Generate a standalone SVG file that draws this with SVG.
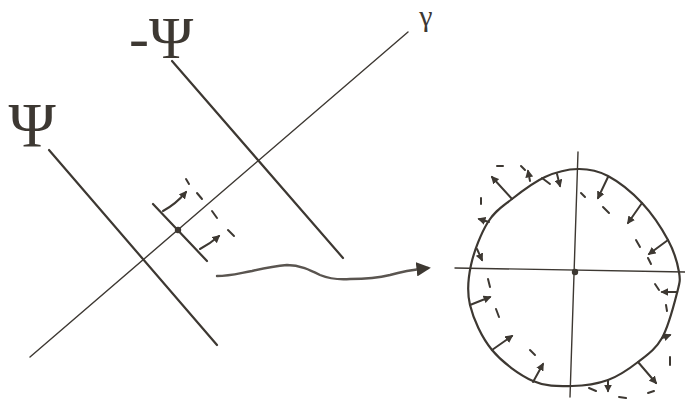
<svg xmlns="http://www.w3.org/2000/svg" width="685" height="403" viewBox="0 0 685 403">
<defs>
<style>
.ln{stroke:#3d3832;fill:none;stroke-linecap:round;stroke-linejoin:round}
.thick{stroke-width:2.2}
.thin{stroke-width:1.4}
.ar{stroke:#3d3832;stroke-width:2;fill:none;stroke-linecap:round;marker-end:url(#ah)}
.ds{stroke:#3d3832;stroke-width:2;fill:none;stroke-linecap:round}
.lbl{font-family:"Liberation Serif","DejaVu Serif",serif;fill:#3d3832}
</style>
<marker id="ah" viewBox="0 0 10 10" refX="8" refY="5" markerWidth="4" markerHeight="4" orient="auto" markerUnits="strokeWidth">
<path d="M0,0 L10,5 L0,10 Z" fill="#3d3832"/>
</marker>
<marker id="bigah" viewBox="0 0 10 10" refX="8" refY="5" markerWidth="6" markerHeight="6" orient="auto" markerUnits="strokeWidth">
<path d="M0,0 L10,5 L0,10 Z" fill="#3d3832"/>
</marker>
</defs>
<rect width="685" height="403" fill="#ffffff"/>

<g id="label-psi">
<text class="lbl" x="32" y="147" font-size="64" text-anchor="middle">Ψ</text>
</g>
<g id="label-minus-psi">
<text class="lbl" x="129" y="58" font-size="60">-Ψ</text>
</g>
<g id="label-gamma">
<text class="lbl" x="426" y="26" font-size="30" text-anchor="middle">γ</text>
</g>

<g id="lines">
<line class="ln thin" x1="408" y1="32" x2="30" y2="357"/>
<line class="ln thick" x1="49" y1="150" x2="217" y2="345"/>
<line class="ln thick" x1="172" y1="61" x2="343" y2="258"/>
</g>

<g id="local-variation">
<line class="ln thick" x1="153" y1="204" x2="207" y2="261"/>
<circle cx="178" cy="230" r="3.2" fill="#3d3832"/>
<path class="ar" d="M163,211 Q176,204 186,192"/>
<path class="ar" d="M200,249 Q211,243 219,236"/>
<line class="ds" x1="186" y1="179" x2="189" y2="184"/>
<line class="ds" x1="197" y1="193" x2="202" y2="199"/>
<line class="ds" x1="212" y1="211" x2="217" y2="218"/>
<line class="ds" x1="228" y1="230" x2="234" y2="236"/>
</g>

<g id="connectors">
<path d="M217,276 C230,276 240,273 252,271 C265,268 275,266 287,265 C300,265 310,270 320,275 C330,279 338,280 350,279 C365,279 378,278 390,275 C400,272 410,270 428,268" fill="none" stroke="#5a5550" stroke-width="2.4" stroke-linecap="round" marker-end="url(#bigah)"/>
</g>

<g id="circle-diagram">
<line class="ln thin" x1="455" y1="268" x2="685" y2="272"/>
<line class="ln thin" x1="578" y1="152" x2="570" y2="397"/>
<circle cx="575" cy="272" r="3.2" fill="#3d3832"/>
<path class="ln thick" d="M578,169 C588.5,168.8 597.3,170.3 608,176 C618.7,181.7 632,192.3 642,203 C652,213.7 661.8,228.5 668,240 C674.2,251.5 677.5,263.2 679,272 C680.5,280.8 679.8,282 677,293 C674.2,304 668.5,326.5 662,338 C655.5,349.5 647,355 638,362 C629,369 619,376 608,380 C597,384 584.5,385.8 572,386 C559.5,386.2 546.3,387 533,381 C519.7,375 502.5,362.7 492,350 C481.5,337.3 473.5,319.2 470,305 C466.5,290.8 468,278.8 471,265 C474,251.2 481.2,233 488,222 C494.8,211 502.5,206.5 512,199 C521.5,191.5 534,182 545,177 C556,172 567.5,169.2 578,169 Z"/>
<line class="ar" x1="512" y1="199" x2="492" y2="177"/>
<line class="ar" x1="530" y1="181" x2="528" y2="171"/>
<line class="ar" x1="557" y1="174" x2="560" y2="186"/>
<line class="ar" x1="489" y1="222" x2="479" y2="219"/>
<line class="ar" x1="477" y1="249" x2="482" y2="260"/>
<line class="ar" x1="608" y1="177" x2="598" y2="198"/>
<line class="ar" x1="642" y1="203" x2="628" y2="223"/>
<line class="ar" x1="668" y1="240" x2="649" y2="254"/>
<line class="ar" x1="470" y1="305" x2="490" y2="297"/>
<line class="ar" x1="492" y1="350" x2="512" y2="336"/>
<line class="ar" x1="533" y1="382" x2="543" y2="364"/>
<line class="ar" x1="677" y1="292" x2="662" y2="292"/>
<line class="ar" x1="662" y1="338" x2="670" y2="335"/>
<line class="ar" x1="638" y1="362" x2="656" y2="383"/>
<line class="ar" x1="608" y1="380" x2="608" y2="391"/>
<line class="ds" x1="497" y1="166" x2="503" y2="166"/>
<line class="ds" x1="521" y1="166" x2="525" y2="170"/>
<line class="ds" x1="542" y1="178" x2="550" y2="184"/>
<line class="ds" x1="481" y1="198" x2="481" y2="204"/>
<line class="ds" x1="581" y1="193" x2="585" y2="197"/>
<line class="ds" x1="603" y1="207" x2="609" y2="213"/>
<line class="ds" x1="636" y1="240" x2="640" y2="247"/>
<line class="ds" x1="648" y1="258" x2="651" y2="264"/>
<line class="ds" x1="655" y1="284" x2="659" y2="290"/>
<line class="ds" x1="666" y1="305" x2="667" y2="311"/>
<line class="ds" x1="670" y1="357" x2="670" y2="365"/>
<line class="ds" x1="648" y1="393" x2="654" y2="391"/>
<line class="ds" x1="619" y1="397" x2="626" y2="398"/>
<line class="ds" x1="589" y1="388" x2="596" y2="391"/>
<line class="ds" x1="488" y1="279" x2="490" y2="287"/>
<line class="ds" x1="496" y1="309" x2="499" y2="317"/>
<line class="ds" x1="530" y1="350" x2="535" y2="355"/>
</g>
</svg>
